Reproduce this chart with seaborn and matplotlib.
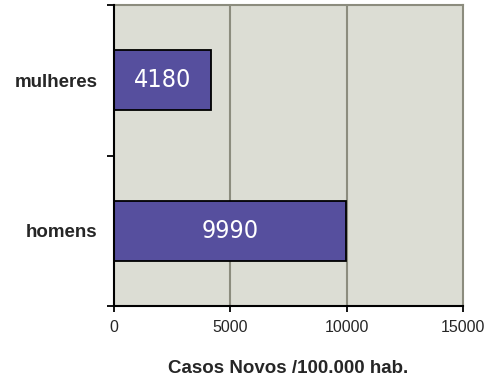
import matplotlib
matplotlib.use("Agg")
import matplotlib.pyplot as plt
from matplotlib import font_manager
import seaborn as sns
import pandas as pd

# Data
categories = ["mulheres", "homens"]
values = [4180, 9990]
x_ticks = [0, 5000, 10000, 15000]
x_label = "Casos Novos /100.000 hab."

sns.set_theme(style="white")
plt.rcParams["font.family"] = ["Liberation Sans", "DejaVu Sans"]

# pick a narrow face for the in-bar numbers
names = {f.name for f in font_manager.fontManager.ttflist}
narrow = "DejaVu Sans"
for cand in ["Liberation Sans Narrow", "DejaVu Sans Condensed"]:
    if cand in names:
        narrow = cand
        break

df = pd.DataFrame({"grupo": categories, "casos": values})

fig = plt.figure(figsize=(4.96, 3.80), dpi=100)
ax = fig.add_axes([0.2298, 0.1947, 0.7037, 0.7921])
ax.set_facecolor("#dcddd4")

sns.barplot(data=df, x="casos", y="grupo", order=categories, orient="h",
            color="#564f9e", saturation=1, width=0.4,
            edgecolor="black", linewidth=1.3, ax=ax, zorder=3)

# value labels inside the bars
for cont in ax.containers:
    ax.bar_label(cont, labels=[f"{v}" for v in values], label_type="center",
                 color="white", fontsize=18,
                 family=[narrow, "DejaVu Sans"],
                 stretch="condensed", zorder=4)

ax.set_xlim(0, 15000)
ax.set_ylim(1.5, -0.5)
ax.set_xticks(x_ticks)
ax.set_xticklabels([str(t) for t in x_ticks], fontsize=11.5)
ax.set_xlabel(x_label, fontsize=13.5, fontweight="bold", labelpad=18)
ax.set_ylabel("")
ax.set_yticks(range(len(categories)))
ax.set_yticklabels(categories, fontsize=13.5, fontweight="bold")
ax.tick_params(axis="y", which="major", length=0, pad=12)
ax.set_yticks([-0.5, 0.5, 1.5], minor=True)
ax.tick_params(axis="y", which="minor", length=5, width=1.3, color="black", left=True)
ax.tick_params(axis="x", which="major", length=4, width=1.3, color="black",
               bottom=True, pad=6)

# vertical gridlines
for gx in [5000, 10000]:
    ax.axvline(gx, color="#8c8c7e", lw=1.5, zorder=1)

for side in ["top", "right"]:
    ax.spines[side].set_visible(True)
    ax.spines[side].set_color("#8c8c7e")
    ax.spines[side].set_linewidth(1.5)
for side in ["left", "bottom"]:
    ax.spines[side].set_visible(True)
    ax.spines[side].set_color("black")
    ax.spines[side].set_linewidth(1.5)
    ax.spines[side].set_zorder(5)

fig.savefig("out.png", dpi=100, facecolor="white")
